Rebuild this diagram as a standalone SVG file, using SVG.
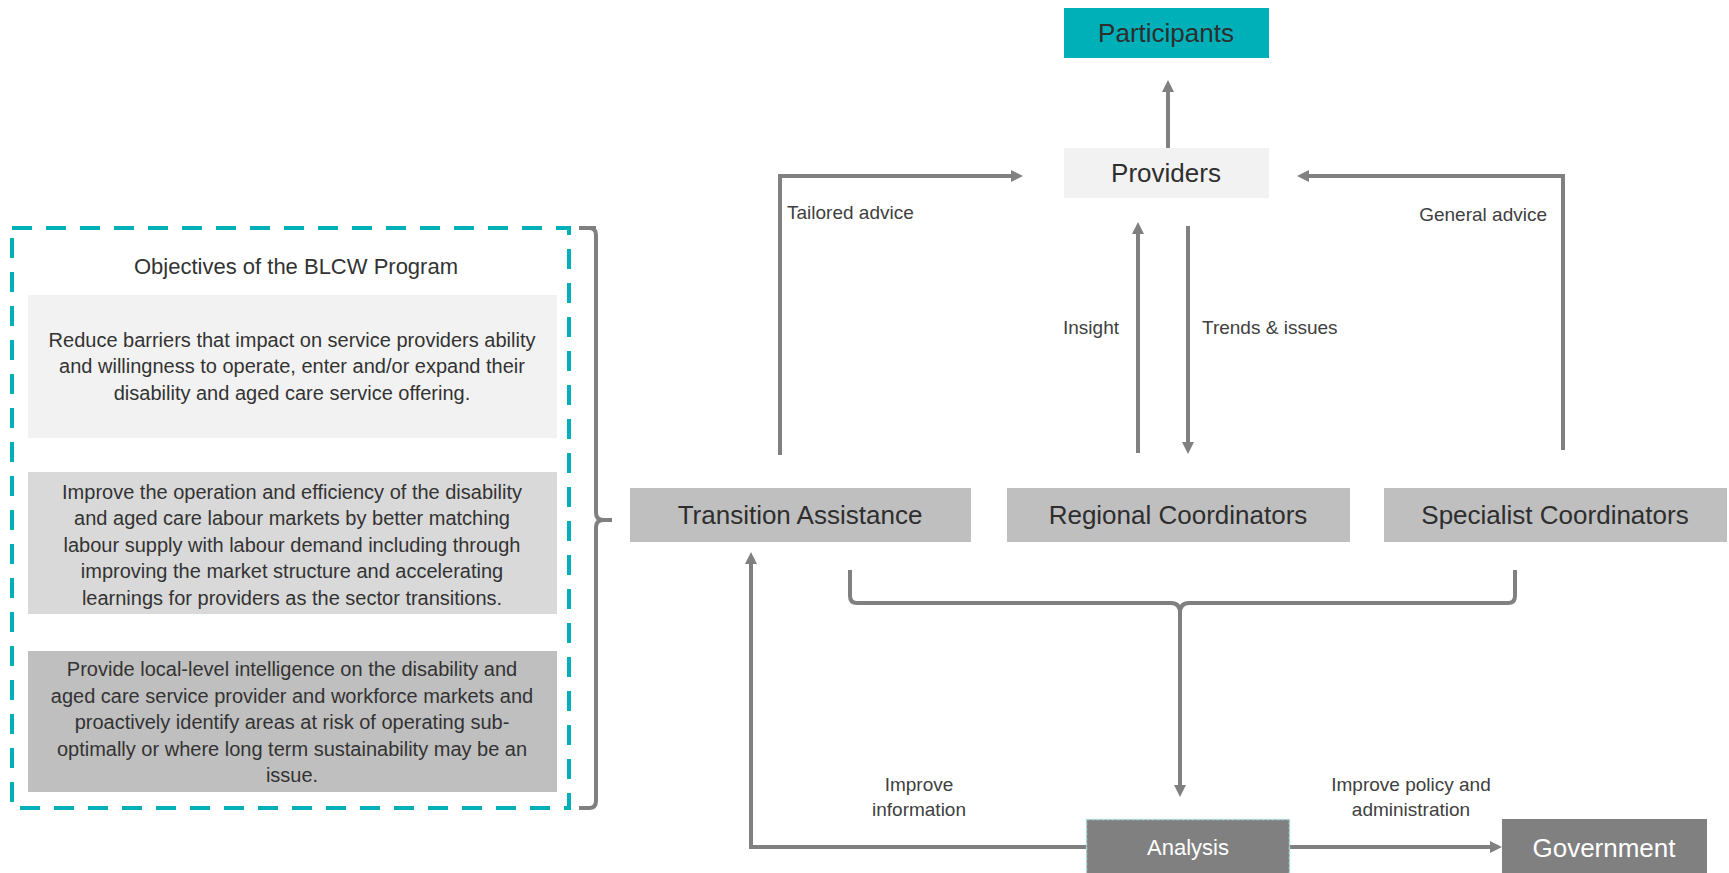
<svg xmlns="http://www.w3.org/2000/svg" width="1729" height="873" viewBox="0 0 1729 873">
<style>
text{font-family:"Liberation Sans",Arial,sans-serif;fill:#2e2e2e}
.node{font-size:26px;text-anchor:middle}
.obj{font-size:20px;text-anchor:middle;fill:#333}
.lbl{font-size:19px;fill:#404040}
.c{text-anchor:middle}
.r{text-anchor:end}
.w{fill:#ffffff}
.conn{fill:none;stroke:#808080;stroke-width:4}
</style>
<defs>
<marker id="arr" viewBox="0 0 12 12" refX="4" refY="6" markerWidth="12" markerHeight="12" markerUnits="userSpaceOnUse" orient="auto">
<path d="M0,0 L12,6 L0,12 z" fill="#808080"/>
</marker>
</defs>
<rect width="1729" height="873" fill="#ffffff"/>

<g id="objectives">
<rect x="12" y="228" width="557" height="580" fill="none" stroke="#00b0b9" stroke-width="4" stroke-dasharray="20 14"/>
<text x="296" y="274" style="font-size:22px;text-anchor:middle;fill:#333">Objectives of the BLCW Program</text>
</g>
<g id="objective-1">
<rect x="28" y="295" width="529" height="143" fill="#f2f2f2"/>
<text class="obj" x="292" y="347">Reduce barriers that impact on service providers ability</text>
<text class="obj" x="292" y="373">and willingness to operate, enter and/or expand their</text>
<text class="obj" x="292" y="400">disability and aged care service offering.</text>
</g>
<g id="objective-2">
<rect x="28" y="472" width="529" height="142" fill="#d9d9d9"/>
<text class="obj" x="292" y="499">Improve the operation and efficiency of the disability</text>
<text class="obj" x="292" y="525">and aged care labour markets by better matching</text>
<text class="obj" x="292" y="552">labour supply with labour demand including through</text>
<text class="obj" x="292" y="578">improving the market structure and accelerating</text>
<text class="obj" x="292" y="605">learnings for providers as the sector transitions.</text>
</g>
<g id="objective-3">
<rect x="28" y="651" width="529" height="141" fill="#bfbfbf"/>
<text class="obj" x="292" y="676">Provide local-level intelligence on the disability and</text>
<text class="obj" x="292" y="703">aged care service provider and workforce markets and</text>
<text class="obj" x="292" y="729">proactively identify areas at risk of operating sub-</text>
<text class="obj" x="292" y="756">optimally or where long term sustainability may be an</text>
<text class="obj" x="292" y="782">issue.</text>
</g>

<g id="participants">
<rect x="1064" y="8" width="205" height="50" fill="#00b0b9"/>
<text class="node" x="1166" y="42">Participants</text>
</g>
<g id="providers">
<rect x="1064" y="148" width="205" height="50" fill="#f2f2f2"/>
<text class="node" x="1166" y="182">Providers</text>
</g>
<g id="transition-assistance">
<rect x="630" y="488" width="341" height="54" fill="#bfbfbf"/>
<text class="node" x="800" y="524">Transition Assistance</text>
</g>
<g id="regional-coordinators">
<rect x="1007" y="488" width="343" height="54" fill="#bfbfbf"/>
<text class="node" x="1178" y="524">Regional Coordinators</text>
</g>
<g id="specialist-coordinators">
<rect x="1384" y="488" width="343" height="54" fill="#bfbfbf"/>
<text class="node" x="1555" y="524">Specialist Coordinators</text>
</g>
<g id="analysis">
<rect x="1086.5" y="819.5" width="203" height="60" fill="#808080" stroke="#a8dde0" stroke-width="1.5" stroke-dasharray="3 2"/>
<text x="1188" y="855" style="font-size:22px;text-anchor:middle;fill:#ffffff">Analysis</text>
</g>
<g id="government">
<rect x="1502" y="819" width="205" height="60" fill="#808080"/>
<text class="node w" x="1604" y="857">Government</text>
</g>

<g id="connectors">
<path class="conn" d="M596,228 H579"/>
<path class="conn" d="M579,228 H589 Q596,228 596,235 V513 Q596,520 604,520 H612 M604,520 Q596,520 596,527 V801 Q596,808 589,808 H579"/>
<path class="conn" d="M1168,148 V88" marker-end="url(#arr)"/>
<path class="conn" d="M780,455 V176 H1015" marker-end="url(#arr)"/>
<path class="conn" d="M1563,450 V176 H1305" marker-end="url(#arr)"/>
<path class="conn" d="M1138,453 V230" marker-end="url(#arr)"/>
<path class="conn" d="M1188,226 V446" marker-end="url(#arr)"/>
<path class="conn" d="M850,570 V596 Q850,603 857,603 H1171 Q1180,603 1180,613 V789" marker-end="url(#arr)"/>
<path class="conn" d="M1515,570 V596 Q1515,603 1508,603 H1189 Q1180,603 1180,613"/>
<path class="conn" d="M1086,847 H751 V560" marker-end="url(#arr)"/>
<path class="conn" d="M1290,847 H1494" marker-end="url(#arr)"/>
<text class="lbl" x="787" y="219">Tailored advice</text>
<text class="lbl r" x="1547" y="221">General advice</text>
<text class="lbl r" x="1119" y="334">Insight</text>
<text class="lbl" x="1202" y="334">Trends &amp; issues</text>
<text class="lbl c" x="919" y="791">Improve</text>
<text class="lbl c" x="919" y="816">information</text>
<text class="lbl c" x="1411" y="791">Improve policy and</text>
<text class="lbl c" x="1411" y="816">administration</text>
</g>
</svg>
